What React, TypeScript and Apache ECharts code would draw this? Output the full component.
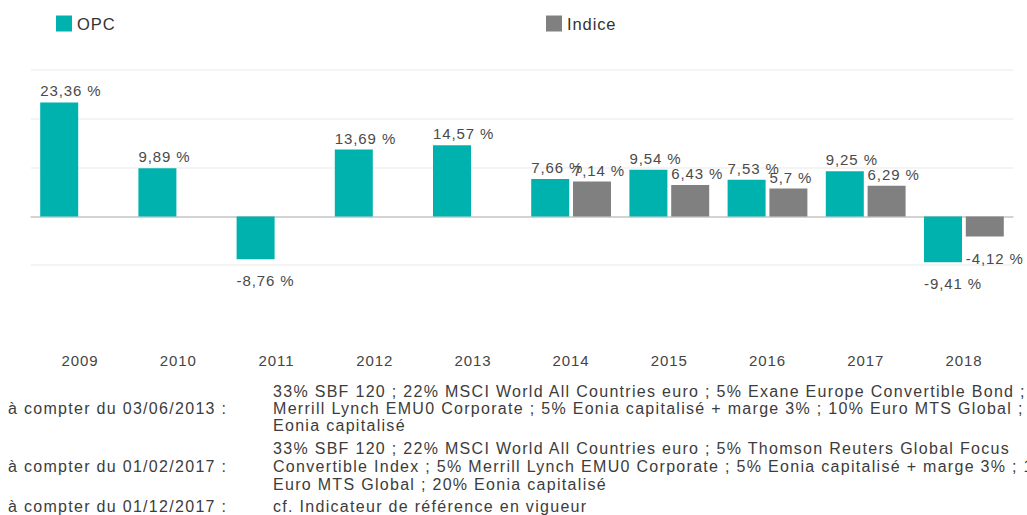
import React, { useEffect, useRef } from "react";
import * as echarts from "echarts";

const categories = ["2009", "2010", "2011", "2012", "2013", "2014", "2015", "2016", "2017", "2018"];
const opcValues = [23.36, 9.89, -8.76, 13.69, 14.57, 7.66, 9.54, 7.53, 9.25, -9.41];
const indiceValues: (number | null)[] = [null, null, null, null, null, 7.14, 6.43, 5.7, 6.29, -4.12];
const seriesNames = ["OPC", "Indice"];
const seriesColors = ["#00b2ad", "#808080"];

const footLeft = [
  { text: "à compter du 03/06/2013 :", y: 409 },
  { text: "à compter du 01/02/2017 :", y: 467 },
  { text: "à compter du 01/12/2017 :", y: 507 },
];
const footRight = [
  { text: "33% SBF 120 ; 22% MSCI World All Countries euro ; 5% Exane Europe Convertible Bond ; 5%", y: 392 },
  { text: "Merrill Lynch EMU0 Corporate ; 5% Eonia capitalisé + marge 3% ; 10% Euro MTS Global ; 20%", y: 409 },
  { text: "Eonia capitalisé", y: 426 },
  { text: "33% SBF 120 ; 22% MSCI World All Countries euro ; 5% Thomson Reuters Global Focus", y: 449 },
  { text: "Convertible Index ; 5% Merrill Lynch EMU0 Corporate ; 5% Eonia capitalisé + marge 3% ; 10%", y: 467 },
  { text: "Euro MTS Global ; 20% Eonia capitalisé", y: 485 },
  { text: "cf. Indicateur de référence en vigueur", y: 507 },
];

const FONT = "'Liberation Sans', Arial, Helvetica, sans-serif";
const BAR_W = 38;

function fmt(v: number) {
  return String(v).replace(".", ",") + " %";
}

function makeData(values: (number | null)[]) {
  return values.map((v) =>
    v === null
      ? null
      : {
          value: v,
          label: v < 0 ? { position: "bottom", distance: 14 } : { position: "top", distance: 4 },
        }
  );
}

const css = `
#chart-root svg text { letter-spacing: 0.9px; }
#chart-root svg text[style*="16px"] { letter-spacing: 1.3px; }
`;

export default function App() {
  const ref = useRef<HTMLDivElement>(null);
  useEffect(() => {
    if (!ref.current) return;
    const chart = echarts.init(ref.current, null, { renderer: "svg" });
    const labelCfg = {
      show: true,
      align: "left",
      offset: [-BAR_W / 2, 0],
      fontSize: 15,
      color: "#4a4a4a",
      fontFamily: FONT,
      formatter: (p: any) => fmt(p.value),
    };
    const graphics: any[] = [];
    footLeft.forEach((f) =>
      graphics.push({
        type: "text",
        x: 8,
        y: f.y - 9,
        style: { text: f.text, fontSize: 16, fontFamily: FONT, fill: "#3c3c3c" },
      })
    );
    footRight.forEach((f) =>
      graphics.push({
        type: "text",
        x: 273,
        y: f.y - 9,
        style: { text: f.text, fontSize: 16, fontFamily: FONT, fill: "#3c3c3c" },
      })
    );
    chart.setOption({
      animation: false,
      textStyle: { fontFamily: FONT },
      legend: [
        {
          data: [seriesNames[0]],
          left: 56,
          top: 15,
          padding: 0,
          itemWidth: 16,
          itemHeight: 16,
          icon: "rect",
          textStyle: { fontSize: 16.5, color: "#333", fontFamily: FONT },
        },
        {
          data: [seriesNames[1]],
          left: 546,
          top: 15,
          padding: 0,
          itemWidth: 16,
          itemHeight: 16,
          icon: "rect",
          textStyle: { fontSize: 16.5, color: "#333", fontFamily: FONT },
        },
      ],
      grid: { left: 31, right: 14, top: 70, bottom: 201, containLabel: false },
      xAxis: {
        type: "category",
        data: categories,
        axisTick: { show: false },
        axisLine: { show: true, onZero: true, lineStyle: { color: "#c8c8c8", width: 1.5 } },
        axisLabel: { margin: 39, fontSize: 15, color: "#444", fontFamily: FONT },
        splitLine: { show: false },
      },
      yAxis: {
        type: "value",
        min: -20,
        max: 30,
        interval: 10,
        axisLabel: { show: false },
        axisLine: { show: false },
        axisTick: { show: false },
        splitLine: {
          show: true,
          lineStyle: {
            color: ["rgba(0,0,0,0)", "#f0f0f0", "#f0f0f0", "#f0f0f0", "#f0f0f0", "#f0f0f0"],
            width: 1.5,
          },
        },
      },
      series: [
        {
          name: seriesNames[0],
          type: "bar",
          data: makeData(opcValues),
          barWidth: BAR_W,
          barGap: "10%",
          itemStyle: { color: seriesColors[0] },
          label: labelCfg,
        },
        {
          name: seriesNames[1],
          type: "bar",
          data: makeData(indiceValues),
          barWidth: BAR_W,
          barGap: "10%",
          itemStyle: { color: seriesColors[1] },
          label: labelCfg,
        },
      ],
      graphic: graphics,
    });
    return () => chart.dispose();
  }, []);
  return (
    <>
      <style>{css}</style>
      <div
        id="chart-root"
        ref={ref}
        style={{ position: "fixed", left: 0, top: 0, width: 1027, height: 515, background: "#fff", overflow: "hidden" }}
      />
    </>
  );
}
